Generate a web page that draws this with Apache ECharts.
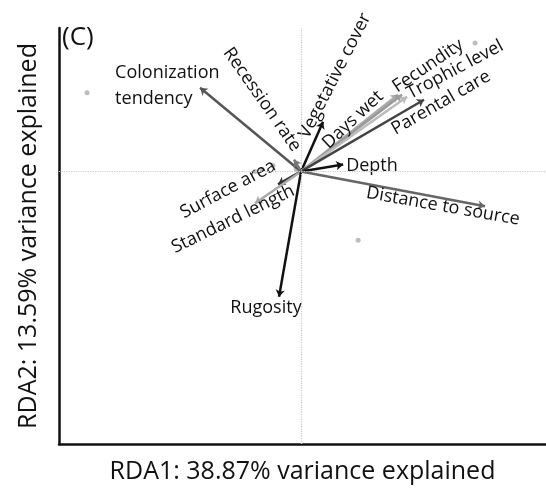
<!DOCTYPE html>
<html>
<head>
<meta charset="utf-8">
<script src="https://cdn.jsdelivr.net/npm/echarts@6/dist/echarts.min.js"></script>
<style>
  html, body { margin: 0; padding: 0; background: #fff; }
  #chart { width: 546px; height: 489px; }
</style>
</head>
<body>
<div id="chart"></div>
<script>
// RDA biplot, panel (C): explanatory vectors and site scores
const panelTag = '(C)';
const xTitle = 'RDA1: 38.87% variance explained';
const yTitle = 'RDA2: 13.59% variance explained';

const vectorNames = [
  'Colonization\ntendency', 'Recession rate', 'Vegetative cover', 'Days wet',
  'Fecundity', 'Trophic level', 'Parental care', 'Depth',
  'Distance to source', 'Surface area', 'Standard length', 'Rugosity'
];
const vectorRDA1 = [-0.417, -0.029, 0.091, 0.400, 0.417, 0.438, 0.508, 0.174, 0.760, -0.095, -0.190, -0.091];
const vectorRDA2 = [0.583, 0.083, 0.347, 0.534, 0.534, 0.521, 0.500, 0.049, -0.243, -0.090, -0.222, -0.874];

const siteRDA1 = [-0.884, 0.719, 0.236, -0.190, -0.161, -0.116, -0.020];
const siteRDA2 = [0.548, 0.895, -0.479, 0.000, 0.014, 0.042, 0.014];

// drawing styles for each vector: colour, label shift on screen (px), label rotation, alignment
const vectorStyle = {
  'Colonization\ntendency': { color: '#555', shift: [-85, -2], rotate: 0, align: 'left' },
  'Recession rate':        { color: '#777', shift: [-32, -60], rotate: -55 },
  'Vegetative cover':      { color: '#111', shift: [12, -46], rotate: 63 },
  'Days wet':              { color: '#aaa', shift: [-45, 25], rotate: 43 },
  'Fecundity':             { color: '#999', shift: [26, -29], rotate: 34 },
  'Trophic level':         { color: '#bbb', shift: [48, -27], rotate: 28 },
  'Parental care':         { color: '#444', shift: [17, 3], rotate: 30 },
  'Depth':                 { color: '#111', shift: [3, 1], rotate: 0, align: 'left' },
  'Distance to source':    { color: '#666', shift: [-42, 0], rotate: -10 },
  'Surface area':          { color: '#333', shift: [-50, 5], rotate: 28 },
  'Standard length':       { color: '#aaa', shift: [-22, 16], rotate: 26 },
  'Rugosity':              { color: '#111', shift: [-13, 11], rotate: 0 }
};

const FONT = '"Open Sans", "Noto Sans", sans-serif';
const TEXT = '#111';

// label offsets are applied in the label's rotated frame, so undo the rotation
function localOffset(shift, deg) {
  const a = deg * Math.PI / 180;
  const c = Math.cos(a), s = Math.sin(a);
  return [shift[0] * c - shift[1] * s, shift[0] * s + shift[1] * c];
}

const arrowData = vectorNames.map((n, i) => ({
  coords: [[0, 0], [vectorRDA1[i], vectorRDA2[i]]],
  lineStyle: { color: vectorStyle[n].color }
}));

const labelData = vectorNames.map((n, i) => {
  const s = vectorStyle[n];
  return {
    value: [vectorRDA1[i], vectorRDA2[i]],
    label: {
      show: true,
      formatter: n,
      position: 'inside',
      offset: localOffset(s.shift, s.rotate),
      rotate: s.rotate,
      align: s.align || 'center',
      verticalAlign: 'middle',
      color: TEXT
    }
  };
});

const siteData = siteRDA1.map((x, i) => [x, siteRDA2[i]]);

const chart = echarts.init(document.getElementById('chart'), null, { renderer: 'canvas' });
chart.setOption({
  backgroundColor: '#fff',
  animation: false,
  grid: { left: 59, right: 0, top: 28, bottom: 43, containLabel: false },
  xAxis: {
    type: 'value', min: -1, max: 1.012,
    name: xTitle, nameLocation: 'middle', nameGap: 15,
    nameTextStyle: { fontFamily: FONT, fontSize: 25, color: TEXT },
    axisLine: { show: true, onZero: false, lineStyle: { color: '#111', width: 2.5 } },
    axisTick: { show: false }, axisLabel: { show: false }, splitLine: { show: false }
  },
  yAxis: {
    type: 'value', min: -1.9, max: 1.0,
    name: yTitle, nameLocation: 'middle', nameGap: 18,
    nameTextStyle: { fontFamily: FONT, fontSize: 25, color: TEXT },
    axisLine: { show: true, onZero: false, lineStyle: { color: '#111', width: 2.5 } },
    axisTick: { show: false }, axisLabel: { show: false }, splitLine: { show: false }
  },
  graphic: [{
    type: 'text', left: 62, top: 25,
    style: { text: panelTag, font: '26px ' + FONT, fill: TEXT }
  }],
  series: [
    {
      type: 'line', data: [], silent: true,
      markLine: {
        silent: true, symbol: 'none', label: { show: false },
        lineStyle: { color: '#c8c8c8', type: 'dotted', width: 1.2 },
        data: [{ xAxis: 0 }, { yAxis: 0 }]
      }
    },
    {
      name: 'Sites', type: 'scatter', data: siteData,
      symbol: 'circle', symbolSize: 5,
      itemStyle: { color: '#bdbdbd', opacity: 1 }, z: 2
    },
    {
      name: 'Vectors', type: 'lines', coordinateSystem: 'cartesian2d',
      data: arrowData, symbol: ['none', 'arrow'], symbolSize: 7,
      lineStyle: { width: 2.5, opacity: 1 }, z: 3
    },
    {
      name: 'Vector labels', type: 'scatter', data: labelData,
      symbolSize: 0, z: 4, itemStyle: { opacity: 1 },
      label: { fontFamily: FONT, fontSize: 18, color: TEXT, lineHeight: 26 }
    }
  ]
});
</script>
</body>
</html>
